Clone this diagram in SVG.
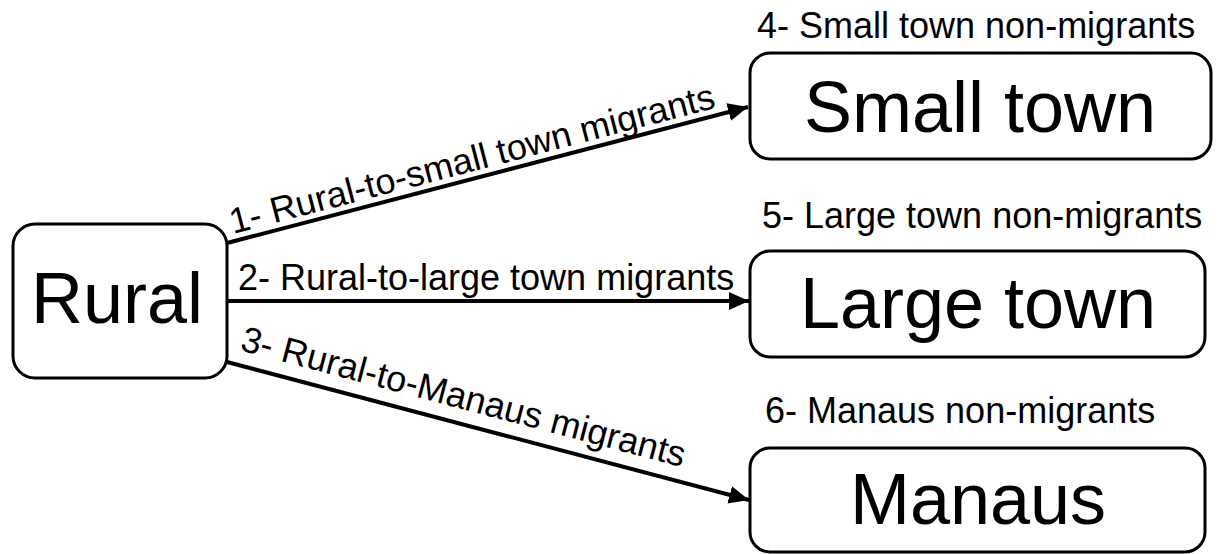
<svg xmlns="http://www.w3.org/2000/svg" width="1219" height="554" viewBox="0 0 1219 554">
<style>
.box{fill:#fff;stroke:#000;stroke-width:3}
.big{font-family:"Liberation Sans",Arial,sans-serif;font-size:72px;fill:#000;text-anchor:middle}
.lbl{font-family:"Liberation Sans",Arial,sans-serif;font-size:36px;fill:#000}
.edge{stroke:#000;stroke-width:4;fill:none}
</style>
<defs>
<marker id="ah" markerUnits="userSpaceOnUse" markerWidth="22" markerHeight="18" refX="20" refY="9" orient="auto">
<path d="M0,0 L20,9 L0,18 z" fill="#000"/>
</marker>
</defs>
<rect width="1219" height="554" fill="#fff"/>
<g id="connectors">
<line class="edge" x1="227" y1="243" x2="748" y2="107" marker-end="url(#ah)"/>
<line class="edge" x1="227" y1="301" x2="749" y2="301" marker-end="url(#ah)"/>
<line class="edge" x1="227" y1="362" x2="749" y2="500" marker-end="url(#ah)"/>
<text class="lbl" transform="translate(233,234) rotate(-14.65)">1- Rural-to-small town migrants</text>
<text class="lbl" x="238" y="290">2- Rural-to-large town migrants</text>
<text class="lbl" transform="translate(239,350) rotate(14.8)">3- Rural-to-Manaus migrants</text>
</g>
<g id="rural">
<rect class="box" x="13" y="224" width="214" height="154" rx="22"/>
<text class="big" x="117" y="323">Rural</text>
</g>
<g id="small-town">
<rect class="box" x="750" y="53" width="461" height="106" rx="20"/>
<text class="big" x="980" y="132">Small town</text>
<text class="lbl" x="757" y="38">4- Small town non-migrants</text>
</g>
<g id="large-town">
<rect class="box" x="750" y="251" width="455" height="106" rx="20"/>
<text class="big" x="978" y="328">Large town</text>
<text class="lbl" x="762" y="228">5- Large town non-migrants</text>
</g>
<g id="manaus">
<rect class="box" x="750" y="448" width="455" height="104" rx="20"/>
<text class="big" x="978" y="524">Manaus</text>
<text class="lbl" x="765" y="423">6- Manaus non-migrants</text>
</g>
</svg>
